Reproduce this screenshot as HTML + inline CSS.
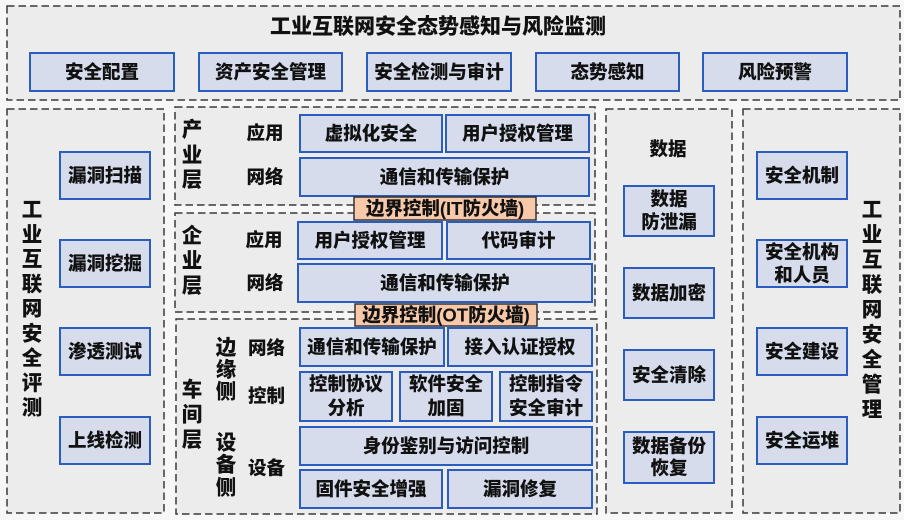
<!DOCTYPE html>
<html><head><meta charset="utf-8"><style>
html,body{margin:0;padding:0;background:#f7f7f7;}
svg{display:block;}
text{font-family:"Liberation Sans","Noto Sans CJK SC",sans-serif;font-weight:900;fill:#111;}
.d{fill:#ececec;stroke:#3a3a3a;stroke-width:1.5;stroke-dasharray:7.5 4;}
.b{fill:#d6dcec;stroke:#2b5cbf;stroke-width:2;}
.f{fill:#f7c9a8;stroke:#333;stroke-width:1.5;}
.t{font-size:18.5px;}
.v{font-size:20.5px;}
</style></head><body>
<svg width="904" height="520" viewBox="0 0 904 520" xmlns="http://www.w3.org/2000/svg" text-anchor="middle" dominant-baseline="central">
<rect x="0" y="0" width="904" height="520" fill="#f7f7f7"/>
<!-- dashed containers -->
<rect class="d" x="7" y="6" width="893" height="94"/>
<rect class="d" x="7" y="109" width="157" height="404"/>
<rect class="d" x="175" y="107" width="420" height="98"/>
<rect class="d" x="175" y="213" width="420" height="99"/>
<rect class="d" x="176" y="319" width="421" height="195"/>
<rect class="d" x="606" y="109" width="126" height="404"/>
<rect class="d" x="743" y="109" width="157" height="404"/>

<!-- top -->
<text x="438" y="27" style="font-size:21px">工业互联网安全态势感知与风险监测</text>
<rect class="b" x="30" y="53" width="144" height="38"/><text class="t" x="102" y="72">安全配置</text>
<rect class="b" x="199" y="53" width="143" height="38"/><text class="t" x="270.5" y="72">资产安全管理</text>
<rect class="b" x="367" y="53" width="144" height="38"/><text class="t" x="439" y="72">安全检测与审计</text>
<rect class="b" x="536" y="53" width="143" height="38"/><text class="t" x="607.5" y="72">态势感知</text>
<rect class="b" x="703" y="53" width="144" height="38"/><text class="t" x="775" y="72">风险预警</text>

<!-- left column -->
<g class="v">
<text x="32" y="210">工</text><text x="32" y="234.75">业</text><text x="32" y="259.5">互</text>
<text x="32" y="284.25">联</text><text x="32" y="309">网</text><text x="32" y="333.75">安</text>
<text x="32" y="358.5">全</text><text x="32" y="383.25">评</text><text x="32" y="408">测</text>
</g>
<rect class="b" x="60" y="152" width="90" height="47"/><text class="t" x="105" y="175.5">漏洞扫描</text>
<rect class="b" x="60" y="240" width="90" height="47"/><text class="t" x="105" y="263.5">漏洞挖掘</text>
<rect class="b" x="60" y="328" width="90" height="47"/><text class="t" x="105" y="351.5">渗透测试</text>
<rect class="b" x="60" y="417" width="90" height="47"/><text class="t" x="105" y="440.5">上线检测</text>

<!-- 产业层 -->
<g class="v">
<text x="192" y="130">产</text><text x="192" y="155.5">业</text><text x="192" y="180">层</text>
</g>
<text class="t" x="265" y="133">应用</text>
<text class="t" x="265" y="177">网络</text>
<rect class="b" x="300" y="115" width="142" height="37"/><text class="t" x="371" y="133.5">虚拟化安全</text>
<rect class="b" x="446" y="115" width="143" height="37"/><text class="t" x="517.5" y="133.5">用户授权管理</text>
<rect class="b" x="300" y="158" width="289" height="38"/><text class="t" x="444.5" y="177">通信和传输保护</text>
<rect class="f" x="354" y="197" width="182" height="23"/><text class="t" x="445" y="208.5">边界控制(IT防火墙)</text>

<!-- 企业层 -->
<g class="v">
<text x="192" y="236">企</text><text x="192" y="261">业</text><text x="192" y="286">层</text>
</g>
<text class="t" x="264" y="240">应用</text>
<text class="t" x="265" y="283">网络</text>
<rect class="b" x="298" y="222" width="144" height="37"/><text class="t" x="370" y="240.5">用户授权管理</text>
<rect class="b" x="447" y="222" width="143" height="37"/><text class="t" x="518.5" y="240.5">代码审计</text>
<rect class="b" x="298" y="264" width="294" height="38"/><text class="t" x="445" y="283">通信和传输保护</text>
<rect class="f" x="355" y="304" width="182" height="22"/><text class="t" x="446" y="315">边界控制(OT防火墙)</text>

<!-- 车间层 -->
<g class="v">
<text x="192" y="390">车</text><text x="192" y="415">间</text><text x="192" y="440">层</text>
<text x="226" y="348">边</text><text x="226" y="370">缘</text><text x="226" y="392">侧</text>
<text x="226" y="443">设</text><text x="226" y="465">备</text><text x="226" y="488">侧</text>
</g>
<text class="t" x="266.5" y="348">网络</text>
<text class="t" x="266.5" y="396">控制</text>
<text class="t" x="266.5" y="468">设备</text>
<rect class="b" x="300" y="328" width="144" height="38"/><text class="t" x="372" y="347">通信和传输保护</text>
<rect class="b" x="448" y="328" width="144" height="38"/><text class="t" x="520" y="347">接入认证授权</text>
<rect class="b" x="300" y="372" width="92" height="49"/><text class="t" x="346" y="384">控制协议</text><text class="t" x="346" y="408">分析</text>
<rect class="b" x="400" y="372" width="92" height="49"/><text class="t" x="446" y="384">软件安全</text><text class="t" x="446" y="408">加固</text>
<rect class="b" x="500" y="372" width="92" height="49"/><text class="t" x="546" y="384">控制指令</text><text class="t" x="546" y="408">安全审计</text>
<rect class="b" x="300" y="427" width="292" height="38"/><text class="t" x="446" y="446">身份鉴别与访问控制</text>
<rect class="b" x="300" y="470" width="142" height="38"/><text class="t" x="371" y="489">固件安全增强</text>
<rect class="b" x="448" y="470" width="144" height="38"/><text class="t" x="520" y="489">漏洞修复</text>

<!-- 数据 -->
<text class="t" x="668" y="149">数据</text>
<rect class="b" x="624" y="186" width="90" height="50"/><text class="t" x="669" y="199">数据</text><text class="t" x="669" y="222">防泄漏</text>
<rect class="b" x="624" y="268" width="90" height="50"/><text class="t" x="669" y="293">数据加密</text>
<rect class="b" x="624" y="350" width="90" height="50"/><text class="t" x="669" y="375">安全清除</text>
<rect class="b" x="624" y="432" width="90" height="51"/><text class="t" x="669" y="446">数据备份</text><text class="t" x="669" y="468">恢复</text>

<!-- right column -->
<rect class="b" x="757" y="152" width="90" height="47"/><text class="t" x="802" y="175.5">安全机制</text>
<rect class="b" x="757" y="240" width="90" height="47"/><text class="t" x="802" y="252">安全机构</text><text class="t" x="802" y="275">和人员</text>
<rect class="b" x="757" y="328" width="90" height="47"/><text class="t" x="802" y="351.5">安全建设</text>
<rect class="b" x="757" y="417" width="90" height="47"/><text class="t" x="802" y="440.5">安全运堆</text>
<g class="v">
<text x="872" y="210">工</text><text x="872" y="235">业</text><text x="872" y="260">互</text>
<text x="872" y="285">联</text><text x="872" y="310">网</text><text x="872" y="335">安</text>
<text x="872" y="360">全</text><text x="872" y="385">管</text><text x="872" y="410">理</text>
</g>
</svg>
</body></html>
